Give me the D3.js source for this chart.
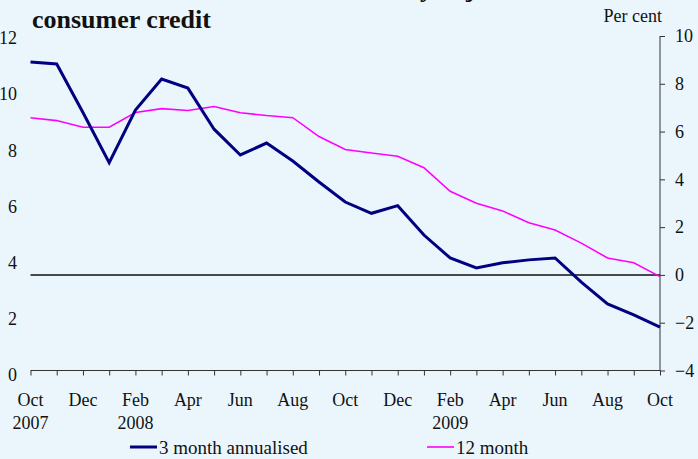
<!DOCTYPE html>
<html>
<head>
<meta charset="utf-8">
<script src="https://cdn.jsdelivr.net/npm/d3@7"></script>
<style>
  body { margin: 0; background: #eaf6fc; }
  svg { display: block; font-family: "Liberation Serif", "Times New Roman", serif; }
  .tick-label { font-family: "Liberation Serif", "Times New Roman", serif; font-size: 18px; fill: #111; }
  .legend-label { font-family: "Liberation Serif", "Times New Roman", serif; font-size: 19px; fill: #111; }
  .title { font-family: "Liberation Serif", "Times New Roman", serif; font-size: 26px; font-weight: bold; fill: #111; }
</style>
</head>
<body>
<svg id="chart" width="698" height="459"></svg>
<script>
// months Oct 2007 .. Oct 2009
const months = ['Oct','Nov','Dec','Jan','Feb','Mar','Apr','May','Jun','Jul','Aug','Sep',
                'Oct','Nov','Dec','Jan','Feb','Mar','Apr','May','Jun','Jul','Aug','Sep','Oct'];
const yearLabels = { 0: '2007', 4: '2008', 16: '2009' };
const threeMonth = [8.91, 8.83, 6.8, 4.7, 6.9, 8.2, 7.82, 6.1, 5.02, 5.52, 4.77, 3.89,
                    3.05, 2.58, 2.9, 1.67, 0.71, 0.29, 0.51, 0.63, 0.71, -0.3, -1.21, -1.67, -2.18];
const twelveMonth = [6.58, 6.46, 6.18, 6.18, 6.8, 6.96, 6.88, 7.05, 6.79, 6.67, 6.58, 5.79,
                     5.25, 5.1, 4.97, 4.49, 3.5, 3.0, 2.68, 2.18, 1.88, 1.33, 0.71, 0.51, -0.07];
const rightTicks = [-4, -2, 0, 2, 4, 6, 8, 10];
const leftTicks = [0, 2, 4, 6, 8, 10, 12];

const svg = d3.select('#chart');
svg.append('rect').attr('width', 698).attr('height', 459).attr('fill', '#eaf6fc');

const x = d3.scaleLinear().domain([0, months.length - 1]).range([30.5, 660]);
const y = d3.scaleLinear().domain([-4, 10]).range([370.5, 36]);
const yLeft = d3.scaleLinear().domain([0, 12]).range([375, 38]);

// title (its first line is cropped at the top edge in the original)
const titleTop = svg.append('text').attr('class', 'title').attr('y', -3);
const part1 = titleTop.append('tspan').text('Growth in seasonally');
const part2 = titleTop.append('tspan').text(' adjusted');
const full = part1.text() + part2.text();
const node = titleTop.node();
const yIdx = full.indexOf('y');
titleTop.attr('x', 420 - node.getSubStringLength(0, yIdx));
const jPos = node.getStartPositionOfChar(full.indexOf('j')).x;
part2.attr('dx', 466 - jPos);
svg.append('text').attr('class', 'title').attr('x', 32).attr('y', 28).text('consumer credit');

svg.append('text').attr('class', 'tick-label').attr('x', 662).attr('y', 22)
    .attr('text-anchor', 'end').text('Per cent');

// left labels (no axis line)
svg.append('g').selectAll('text').data(leftTicks).join('text')
    .attr('class', 'tick-label')
    .attr('x', 17).attr('y', d => yLeft(d)).attr('dy', '0.35em')
    .attr('text-anchor', 'end')
    .text(d => d);

// right axis
const rightAxis = svg.append('g')
    .attr('transform', 'translate(660,0)')
    .call(d3.axisRight(y).tickValues(rightTicks).tickSize(5).tickPadding(10));
rightAxis.attr('font-family', null).attr('font-size', null);
rightAxis.select('.domain').attr('stroke', '#333').attr('d', 'M0,' + y(10) + 'V' + y(-4));
rightAxis.selectAll('.tick line').attr('stroke', '#333');
rightAxis.selectAll('.tick text').attr('class', 'tick-label').attr('fill', '#111');

// bottom axis
const bottomAxis = svg.append('g')
    .attr('transform', 'translate(0,' + y(-4) + ')')
    .call(d3.axisBottom(x).tickValues(d3.range(months.length)).tickSize(5).tickFormat(''));
bottomAxis.select('.domain').attr('stroke', '#333').attr('d', 'M' + x(0) + ',0H' + x(months.length - 1));
bottomAxis.selectAll('.tick line').attr('stroke', '#333');

const labelled = d3.range(0, months.length, 2);
svg.append('g').selectAll('text').data(labelled).join('text')
    .attr('class', 'tick-label')
    .attr('x', d => x(d)).attr('y', 406)
    .attr('text-anchor', 'middle')
    .text(d => months[d]);
svg.append('g').selectAll('text').data(Object.keys(yearLabels)).join('text')
    .attr('class', 'tick-label')
    .attr('x', d => x(+d)).attr('y', 429)
    .attr('text-anchor', 'middle')
    .text(d => yearLabels[d]);

// zero line
svg.append('line')
    .attr('x1', x(0)).attr('x2', x(months.length - 1))
    .attr('y1', y(0)).attr('y2', y(0))
    .attr('stroke', '#111').attr('stroke-width', 1.5);

const line = d3.line().x((d, i) => x(i)).y(d => y(d));
svg.append('path').datum(twelveMonth)
    .attr('fill', 'none').attr('stroke', '#ff00ff').attr('stroke-width', 1.6)
    .attr('d', line);
svg.append('path').datum(threeMonth)
    .attr('fill', 'none').attr('stroke', '#000080').attr('stroke-width', 3)
    .attr('d', line);

// legend
const legend = [
  { name: '3 month annualised', color: '#000080', w: 3, x: 130 },
  { name: '12 month', color: '#ff00ff', w: 1.6, x: 427 }
];
const lg = svg.append('g').selectAll('g').data(legend).join('g')
    .attr('transform', d => 'translate(' + d.x + ',447)');
lg.append('line').attr('x1', 0).attr('x2', 27).attr('y1', 0).attr('y2', 0)
    .attr('stroke', d => d.color).attr('stroke-width', d => d.w);
lg.append('text').attr('class', 'legend-label').attr('x', 29).attr('y', 0).attr('dy', '0.35em')
    .text(d => d.name);
</script>
</body>
</html>
